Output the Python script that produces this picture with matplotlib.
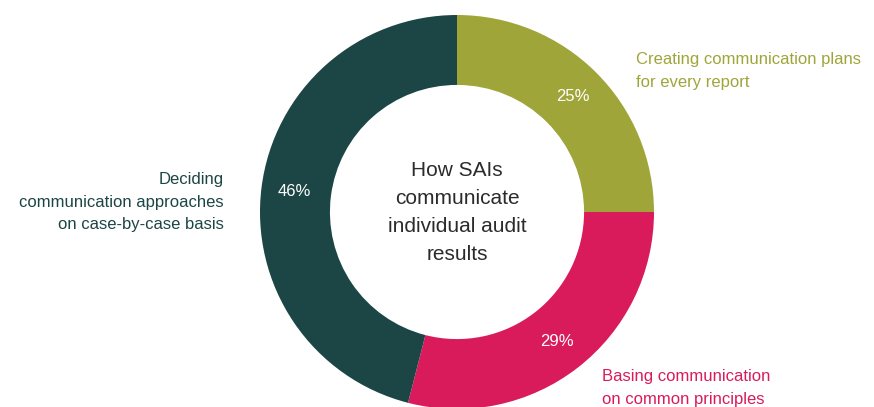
import matplotlib
matplotlib.use('Agg')
import matplotlib.pyplot as plt

# share of SAIs by approach, clockwise from 12 o'clock
approaches = ['Creating communication plans\nfor every report',
              'Basing communication\non common principles',
              'Deciding\ncommunication approaches\non case-by-case basis']
shares = [25, 29, 46]
colors = ['#A0A53A', '#D91B5C', '#1C4545']
center_title = 'How SAIs\ncommunicate\nindividual audit\nresults'

FONT = ['Liberation Sans Narrow', 'Liberation Sans', 'DejaVu Sans']
W, H = 874, 407
R_PX = 197
CX, CY = 457, 212

fig = plt.figure(figsize=(W / 100, H / 100), dpi=100)
ax = fig.add_axes([(CX - R_PX) / W, (H - CY - R_PX) / H, 2 * R_PX / W, 2 * R_PX / H])

wedges, _, pcts = ax.pie(shares, colors=colors, startangle=90, counterclock=False,
                         radius=1.0, wedgeprops=dict(width=0.355, linewidth=0),
                         autopct='%d%%', pctdistance=0.83,
                         textprops=dict(color='white', fontsize=12, family=FONT))
for w in wedges:
    w.set_clip_on(False)
ax.set_xlim(-1, 1)
ax.set_ylim(-1, 1)
ax.set_aspect('auto')
ax.axis('off')

ax.text(0, 0.0, center_title, ha='center', va='center', fontsize=15,
        color='#2B2B2B', family=FONT, linespacing=1.6)

# outside labels, placed in figure pixels
def fig_label(x, y, txt, color, ha):
    fig.text(x / W, 1 - y / H, txt, ha=ha, va='center', fontsize=12,
             color=color, family=FONT, linespacing=1.65)

fig_label(636, 71, approaches[0], colors[0], 'left')
fig_label(602, 388, approaches[1], colors[1], 'left')
fig_label(224, 202, approaches[2], colors[2], 'right')

fig.savefig('out.png', dpi=100)
